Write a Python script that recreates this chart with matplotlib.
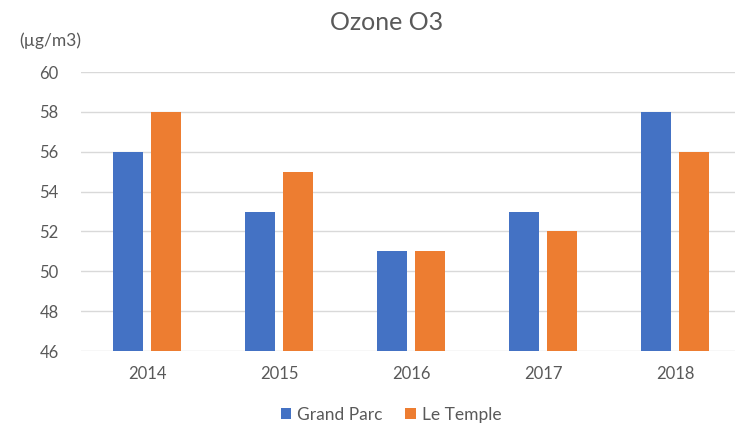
import matplotlib
matplotlib.use("Agg")
import matplotlib.pyplot as plt
import numpy as np
from matplotlib.patches import Patch

years = ["2014", "2015", "2016", "2017", "2018"]
grand_parc = [56, 53, 51, 53, 58]
le_temple = [58, 55, 51, 52, 56]
series_names = ["Grand Parc", "Le Temple"]
colors = ["#4472C4", "#ED7D31"]
text_color = "#595959"

plt.rcParams["font.family"] = ["Lato", "DejaVu Sans"]

fig = plt.figure(figsize=(7.35, 4.3), dpi=100)
ax = fig.add_axes([81 / 735, 79 / 430, 660 / 735, 279 / 430])

x = np.arange(len(years))
width = 0.23
offset = 0.146
ax.bar(x - offset, grand_parc, width, color=colors[0], zorder=3)
ax.bar(x + offset, le_temple, width, color=colors[1], zorder=3)

ax.set_xlim(-0.5, len(years) - 0.5)
ax.set_ylim(46, 60)
ax.set_yticks(np.arange(46, 61, 2))
ax.set_xticks(x)
ax.set_xticklabels(years)
ax.grid(axis="y", color="#D9D9D9", linewidth=1.0, zorder=0)
for s in ax.spines.values():
    s.set_visible(False)
ax.tick_params(axis="both", length=0, colors=text_color, labelsize=12)
ax.tick_params(axis="y", pad=16)
ax.tick_params(axis="x", pad=11)

fig.text(387 / 735, 1 - 22 / 430, "Ozone O3", ha="center", va="center",
         fontsize=18, color=text_color)
fig.text(19 / 735, 1 - 41 / 430, "(µg/m3)", ha="left", va="center",
         fontsize=12.5, color=text_color)

handles = [Patch(facecolor=c, edgecolor="none") for c in colors]
fig.legend(handles, series_names, loc="center", bbox_to_anchor=(391 / 735, 1 - 415 / 430),
           ncol=2, frameon=False, fontsize=12.5, labelcolor=text_color,
           handlelength=0.6, handleheight=0.6, handletextpad=0.35, columnspacing=1.3)

fig.savefig("out.png", dpi=100)
